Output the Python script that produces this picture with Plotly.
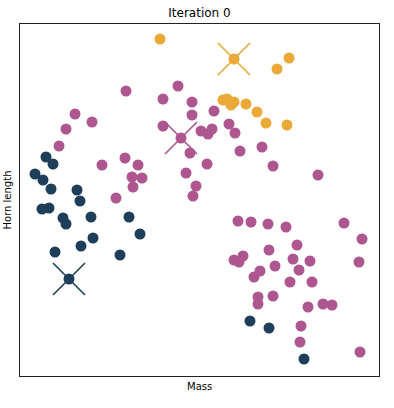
import plotly.graph_objects as go

# Data (arbitrary units; y axis is reversed)
navy_x = [46, 53, 35, 43, 51, 77, 80, 42, 49, 63, 66, 91, 129, 140, 93, 81, 55, 120, 250, 269, 304]
navy_y = [157, 164, 174, 180, 189, 190, 201, 209, 208, 218, 224, 217, 217, 234, 238, 246, 252, 255, 321, 328, 359]

mag_x = [126, 75, 92, 66, 59, 102, 125, 138, 132, 142, 133, 116,
         178, 163, 192, 192, 214, 163, 201, 208, 212, 229, 235, 190, 240, 262, 207, 186, 196, 193, 273, 318,
         238, 251, 268, 286, 344, 362, 297, 269, 243, 234, 239, 293, 310, 359, 260, 254, 275, 299, 290, 312,
         258, 258, 273, 308, 323, 332, 301, 300, 360]
mag_y = [91, 114, 122, 129, 146, 165, 158, 165, 177, 178, 187, 198,
         86, 99, 102, 115, 111, 126, 131, 134, 129, 124, 133, 153, 151, 147, 164, 173, 186, 196, 166, 175,
         221, 222, 224, 227, 223, 239, 245, 250, 256, 260, 262, 259, 261, 262, 271, 277, 266, 270, 282, 282,
         297, 304, 296, 307, 304, 305, 326, 342, 352]

org_x = [160, 277, 289, 223, 227, 231, 234, 246, 257, 266, 287]
org_y = [39, 69, 58, 100, 99, 105, 102, 104, 112, 123, 125]

cent_x = [69, 181, 234]
cent_y = [279, 138, 59]

NAVY = "#1e3e5a"
MAG = "#ad568f"
ORG = "#eba937"
cent_colors = [NAVY, MAG, ORG]

fig = go.Figure()
for xs, ys, c in [(navy_x, navy_y, NAVY), (mag_x, mag_y, MAG), (org_x, org_y, ORG)]:
    fig.add_trace(go.Scatter(x=xs, y=ys, mode="markers",
                             marker=dict(size=11, color=c, line=dict(width=0)),
                             showlegend=False, hoverinfo="skip"))

fig.add_trace(go.Scatter(x=cent_x, y=cent_y, mode="markers",
                         marker=dict(symbol="x-thin", size=32, color=cent_colors,
                                     line=dict(width=1.6, color=cent_colors)),
                         showlegend=False, hoverinfo="skip"))
fig.add_trace(go.Scatter(x=cent_x, y=cent_y, mode="markers",
                         marker=dict(size=11, color=cent_colors, line=dict(width=0)),
                         showlegend=False, hoverinfo="skip"))

axis_common = dict(showgrid=False, zeroline=False, showticklabels=False, ticks="",
                   showline=True, linecolor="#222222", linewidth=1, mirror=True)
fig.update_xaxes(range=[20, 379], **axis_common)
fig.update_yaxes(range=[376, 24], **axis_common)

W, H = 394, 408
fig.update_layout(
    width=W, height=H,
    margin=dict(l=20, r=15, t=24, b=32),
    paper_bgcolor="white", plot_bgcolor="white",
    font=dict(family="DejaVu Sans", color="black"),
    title=dict(text="Iteration 0", x=(20 + 379) / 2 / W, xanchor="center",
               y=1 - 12.5 / H, yanchor="middle", yref="container",
               font=dict(size=12, family="DejaVu Sans", color="black")),
    annotations=[
        dict(text="Mass", x=0.5, y=0, xref="paper", yref="paper", xanchor="center",
             yanchor="top", yshift=-3, showarrow=False, font=dict(size=10)),
        dict(text="Horn length", x=0, y=0.5, xref="paper", yref="paper", xanchor="right",
             yanchor="middle", xshift=-6, textangle=-90, showarrow=False, font=dict(size=10)),
    ],
)

# remove the default page margin so the figure sits at the window's top-left corner
fig.write_html("out.html", config={"displayModeBar": False},
               post_script="document.body.style.margin='0';")
